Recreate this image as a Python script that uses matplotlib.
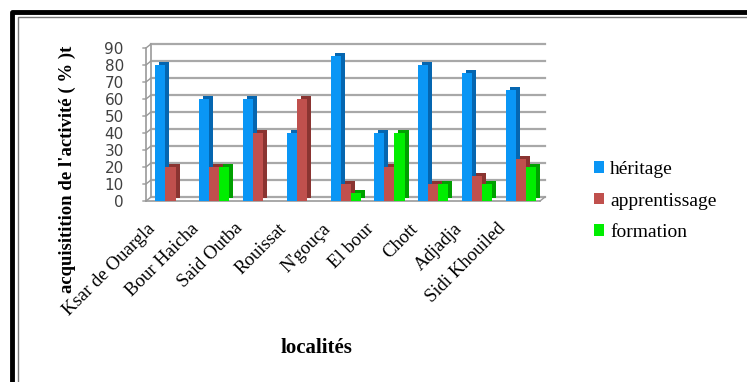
import matplotlib
matplotlib.use('Agg')
import matplotlib.pyplot as plt
from matplotlib.transforms import offset_copy, IdentityTransform
from matplotlib.lines import Line2D
import numpy as np

# === DATA ===
localites = ['Ksar de Ouargla', 'Bour Haicha', 'Said Outba', 'Rouissat', "N'gouça",
             'El bour', 'Chott', 'Adjadja', 'Sidi Khouiled']
heritage = [80, 60, 60, 40, 85, 40, 80, 75, 65]
apprentissage = [20, 20, 40, 60, 10, 20, 10, 15, 25]
formation = [0, 20, 0, 0, 5, 40, 10, 10, 20]
yticks = [0, 10, 20, 30, 40, 50, 60, 70, 80, 90]

series = [
    ('héritage', heritage, '#0a96f5', '#0566b0'),
    ('apprentissage', apprentissage, '#c0504d', '#8a3431'),
    ('formation', formation, '#00ee00', '#00a000'),
]

DX, DY = 5, 4   # fake 3D depth in pixels
serif = 'Liberation Serif'

fig = plt.figure(figsize=(7.47, 3.82), dpi=100)
ax = fig.add_axes([146 / 747, 1 - 201 / 382, (540 - 146) / 747, (201 - 48) / 382])
ax.set_xlim(-0.5, len(localites) - 0.5)
ax.set_ylim(0, 90)
ax.patch.set_alpha(0)
for s in ax.spines.values():
    s.set_visible(False)

back = offset_copy(ax.transData, fig=fig, x=DX, y=DY, units='dots')
grid_c = '#a8a8a8'

# back-wall gridlines
for v in yticks:
    ax.plot([-0.5, len(localites) - 0.5], [v, v], color=grid_c, lw=1.6,
            transform=back, zorder=0, clip_on=False)
ax.plot([-0.5, -0.5], [0, 90], color=grid_c, lw=1.4, transform=back, zorder=0, clip_on=False)

# front axis / floor, diagonals
ax.plot([-0.5, -0.5], [0, 90], color='#999999', lw=1.2, zorder=1, clip_on=False)
ax.plot([-0.5, len(localites) - 0.5], [0, 0], color='#999999', lw=1.2, zorder=1, clip_on=False)
idt = IdentityTransform()
for v in yticks:
    x0, y0 = ax.transData.transform((-0.5, v))
    fig.add_artist(Line2D([x0 - 3, x0, x0 + DX], [y0, y0, y0 + DY], color='#999999',
                          lw=1.0, transform=idt))
xr, yr = ax.transData.transform((len(localites) - 0.5, 0))
fig.add_artist(Line2D([xr, xr + DX], [yr, yr + DY], color='#999999', lw=1.0, transform=idt))

# bars
x = np.arange(len(localites))
w = 0.23
for i, (name, vals, col, dark) in enumerate(series):
    pos = x + (i - 1) * w + 0.06
    ax.bar(pos, vals, w, color=dark, transform=offset_copy(ax.transData, fig=fig, x=DX - 1, y=DY - 1, units='dots'),
           zorder=2 + 2 * i, clip_on=False)
    ax.bar(pos, vals, w, color=col, zorder=3 + 2 * i, label=name, clip_on=False)

ax.set_yticks(yticks)
ax.set_yticklabels([str(v) for v in yticks], fontsize=11, color='#404040', family='DejaVu Sans')
ax.tick_params(axis='y', length=0, pad=16)
ax.set_xticks([])

# rotated category labels
lab_tr = offset_copy(ax.transData, fig=fig, x=-15, y=-25, units='dots')
for xi, name in zip(x, localites):
    ax.text(xi, 0, name, transform=lab_tr, rotation=45, rotation_mode='anchor',
            ha='right', va='center', fontsize=13.5, family=serif, clip_on=False)

ax.set_ylabel("acquisitition de l'activité ( % )t", fontsize=13.5, fontweight='bold',
              family=serif)
ax.yaxis.set_label_coords(-0.178, 0.21)
fig.text(316 / 747, 1 - 348 / 382, 'localités', fontsize=15, fontweight='bold', family=serif,
         ha='center', va='center')

leg = fig.legend(loc='center left', bbox_to_anchor=(576 / 747, 1 - 201 / 382), frameon=False,
                 prop={'family': serif, 'size': 14}, handlelength=0.55, handleheight=0.55,
                 handletextpad=0.3, labelspacing=0.75)

# outer double frame (cropped on right/bottom)
fig.add_artist(Line2D([12, 12, 760], [-10, 370, 370], color='black', lw=3.5, transform=idt))
fig.add_artist(Line2D([17.5, 17.5, 760], [-10, 365, 365], color='#777777', lw=1.0, transform=idt))

fig.savefig('out.png', dpi=100)
